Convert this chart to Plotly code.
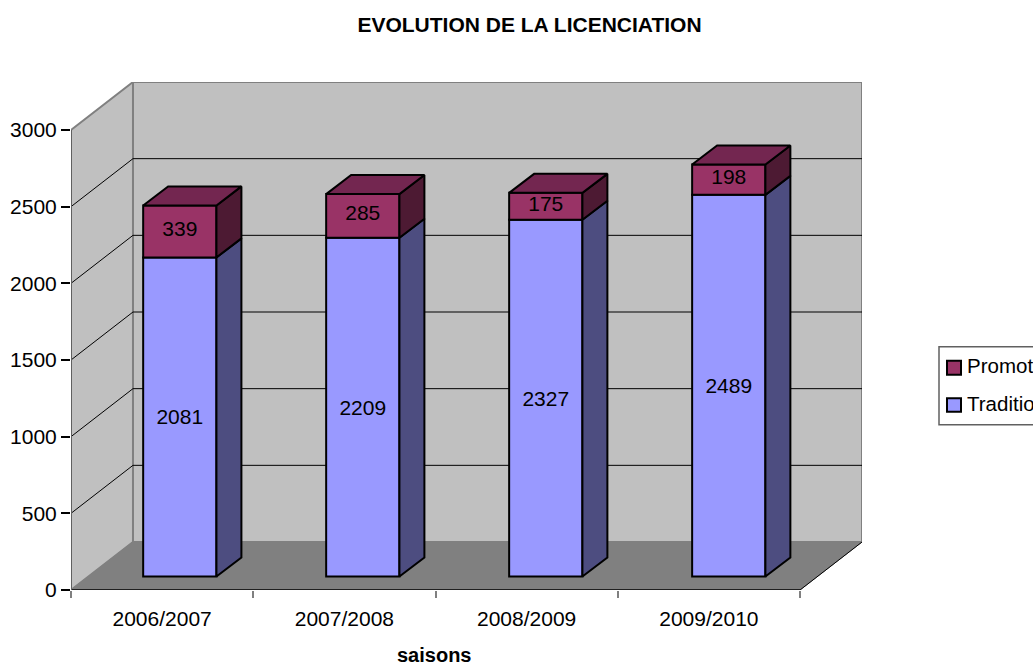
import plotly.graph_objects as go

categories = ["2006/2007", "2007/2008", "2008/2009", "2009/2010"]
traditionnel = [2081, 2209, 2327, 2489]
promotion = [339, 285, 175, 198]
y_ticks = [0, 500, 1000, 1500, 2000, 2500, 3000]

FONT = "Liberation Sans"
BLUE, BLUE_SIDE = "#9999FF", "#4D4D80"
PINK, PINK_SIDE, PINK_TOP = "#993366", "#4D1A33", "#732650"
W, H = 1033, 667
L, R, T, B = 71, 862, 82, 590.5

WALL_DX, WALL_DY = 0.34, 313
XMAX = 4 + WALL_DX
YMAX = 3000 + WALL_DY
BAR_W, BAR_START, BAR_STEP, BAR_BASE = 0.402, 0.597, 1.004, 88
DEPTH_X, DEPTH_Y = 0.137, 124
PINK_LABEL_LIFT = 5


def px(x):
    return (x - L) / (R - L)


def py(y):
    return (B - y) / (B - T)


xc = [BAR_START + i * BAR_STEP for i in range(len(categories))]
base_t = [BAR_BASE] * len(categories)
top_t = [b + v for b, v in zip(base_t, traditionnel)]
top_p = [b + v for b, v in zip(top_t, promotion)]


def poly(xs, ys, fill):
    return go.Scatter(x=xs, y=ys, mode="lines", fill="toself", fillcolor=fill,
                      line=dict(color="black", width=2), hoverinfo="skip",
                      showlegend=False, cliponaxis=False)


fig = go.Figure()
hw = BAR_W / 2
for i in range(len(categories)):
    xr = xc[i] + hw
    xl = xc[i] - hw
    fig.add_trace(poly([xr, xr + DEPTH_X, xr + DEPTH_X, xr, xr],
                       [base_t[i], base_t[i] + DEPTH_Y, top_t[i] + DEPTH_Y, top_t[i], base_t[i]], BLUE_SIDE))
    fig.add_trace(poly([xr, xr + DEPTH_X, xr + DEPTH_X, xr, xr],
                       [top_t[i], top_t[i] + DEPTH_Y, top_p[i] + DEPTH_Y, top_p[i], top_t[i]], PINK_SIDE))
    fig.add_trace(poly([xl, xl + DEPTH_X, xr + DEPTH_X, xr, xl],
                       [top_p[i], top_p[i] + DEPTH_Y, top_p[i] + DEPTH_Y, top_p[i], top_p[i]], PINK_TOP))

fig.add_trace(go.Bar(x=xc, y=traditionnel, base=base_t, width=BAR_W, name="Tradition",
                     marker=dict(color=BLUE, line=dict(color="black", width=2)),
                     text=[str(v) for v in traditionnel], textposition="inside",
                     insidetextanchor="middle", textangle=0, constraintext="none",
                     textfont=dict(family=FONT, size=21, color="black"),
                     showlegend=False, hoverinfo="skip"))
fig.add_trace(go.Bar(x=xc, y=promotion, base=top_t, width=BAR_W, name="Promotion",
                     marker=dict(color=PINK, line=dict(color="black", width=2)),
                     showlegend=False, hoverinfo="skip"))
fig.add_trace(go.Scatter(x=xc, y=[t + v / 2 + PINK_LABEL_LIFT for t, v in zip(top_t, promotion)],
                         mode="text", text=[str(v) for v in promotion], textposition="middle center",
                         textfont=dict(family=FONT, size=21, color="black"),
                         showlegend=False, hoverinfo="skip"))

GREY = "#808080"
shapes = [
    # back wall, side wall, floor
    dict(type="rect", x0=WALL_DX, x1=XMAX, y0=WALL_DY, y1=YMAX, fillcolor="#C0C0C0",
         line=dict(color=GREY, width=2), layer="below"),
    dict(type="path", path=f"M0,0 L{WALL_DX},{WALL_DY} L{WALL_DX},{YMAX} L0,3000 Z",
         fillcolor="#C0C0C0", line=dict(color=GREY, width=2), layer="below"),
    dict(type="path", path=f"M0,0 L{WALL_DX},{WALL_DY} L{XMAX},{WALL_DY} L4,0 Z",
         fillcolor=GREY, line=dict(color=GREY, width=1), layer="below"),
]
for v in y_ticks[1:-1]:
    shapes.append(dict(type="line", x0=0, y0=v, x1=WALL_DX, y1=v + WALL_DY,
                       line=dict(color="black", width=1), layer="below"))
    shapes.append(dict(type="line", x0=WALL_DX, y0=v + WALL_DY, x1=XMAX, y1=v + WALL_DY,
                       line=dict(color="black", width=1), layer="below"))
shapes += [
    dict(type="line", x0=0, y0=0, x1=4, y1=0, line=dict(color="black", width=1.5), layer="below"),
    dict(type="line", x0=4, y0=0, x1=XMAX, y1=WALL_DY, line=dict(color="black", width=1), layer="below"),
    dict(type="line", x0=0, y0=0, x1=0, y1=3000, line=dict(color="#606060", width=2), layer="below"),
]
# legend
shapes.append(dict(type="rect", xref="paper", yref="paper", x0=px(939), x1=px(1045), y0=py(425), y1=py(347),
                   fillcolor="white", line=dict(color="#606060", width=1.5)))
shapes.append(dict(type="rect", xref="paper", yref="paper", x0=px(947), x1=px(961), y0=py(375), y1=py(361),
                   fillcolor=PINK, line=dict(color="black", width=2)))
shapes.append(dict(type="rect", xref="paper", yref="paper", x0=px(947), x1=px(961), y0=py(412), y1=py(398.5),
                   fillcolor=BLUE, line=dict(color="black", width=2)))

annos = [
    dict(text="<b>saisons</b>", xref="paper", yref="paper", x=px(434), y=py(656), xanchor="center",
         yanchor="middle", showarrow=False, font=dict(family=FONT, size=20, color="black")),
    dict(text="Promotion", xref="paper", yref="paper", x=px(965), y=py(366), xanchor="left", yanchor="middle",
         showarrow=False, font=dict(family=FONT, size=20.5, color="black")),
    dict(text="Tradition", xref="paper", yref="paper", x=px(965), y=py(404), xanchor="left", yanchor="middle",
         showarrow=False, font=dict(family=FONT, size=20.5, color="black")),
]

fig.update_layout(
    width=W, height=H, autosize=False, barmode="overlay", showlegend=False,
    paper_bgcolor="white", plot_bgcolor="white",
    margin=dict(l=L, r=W - R, t=T, b=H - B, pad=0, autoexpand=False),
    title=dict(text="<b>EVOLUTION DE LA LICENCIATION</b>", x=529.5 / W, xanchor="center", y=1 - 25 / H,
               yanchor="middle", font=dict(family=FONT, size=21, color="black")),
    font=dict(family=FONT, size=21, color="black"),
    shapes=shapes, annotations=annos,
    xaxis=dict(range=[0, XMAX], tickmode="array", tickvals=[i + 0.5 for i in range(4)], ticktext=categories,
               ticks="", showgrid=False, zeroline=False, showline=False, ticklabelstandoff=14,
               automargin=False, tickfont=dict(family=FONT, size=21, color="black"),
               minor=dict(tickmode="array", tickvals=[0, 1, 2, 3, 4], ticks="outside", ticklen=7,
                          tickwidth=1.5, tickcolor=GREY, showgrid=False)),
    yaxis=dict(range=[0, YMAX], tickmode="array", tickvals=y_ticks, ticks="outside", ticklen=9, tickwidth=1.5,
               tickcolor="black", showgrid=False, zeroline=False, showline=False, ticklabelstandoff=0,
               automargin=False, tickfont=dict(family=FONT, size=21, color="black")),
)

fig.write_html("out.html", config=dict(displayModeBar=False),
               post_script="document.body.style.margin='0';document.documentElement.style.overflow='hidden';")
